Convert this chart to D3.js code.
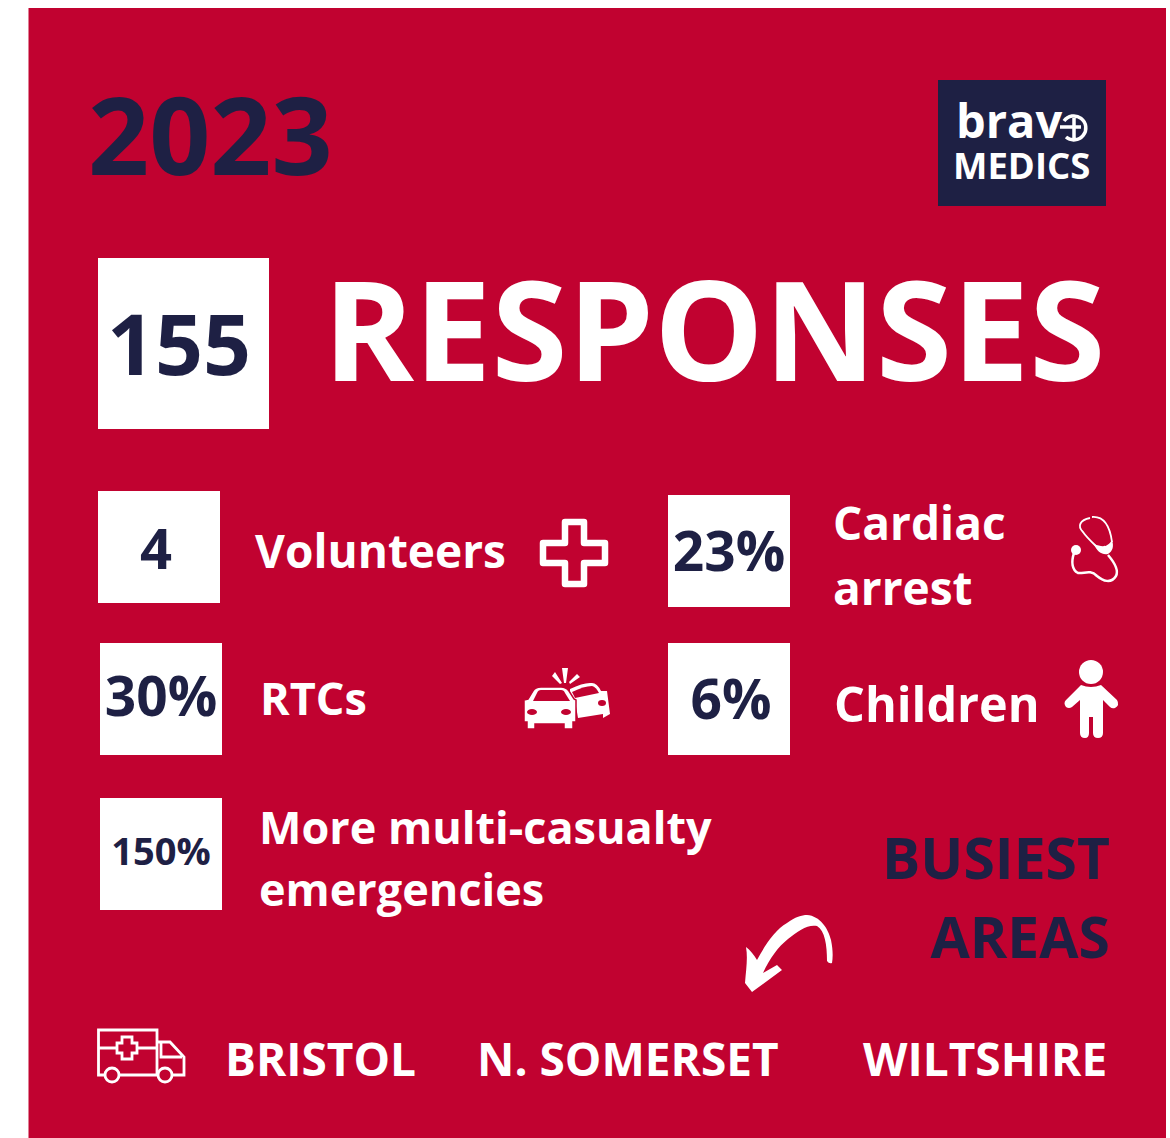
<!DOCTYPE html>
<html>
<head>
<meta charset="utf-8">
<script src="https://cdn.jsdelivr.net/npm/d3@7"></script>
<style>
  html, body { margin: 0; padding: 0; background: #fff; }
  text { font-family: "Open Sans", sans-serif; font-weight: 700; }
</style>
</head>
<body>
<div id="chart"></div>
<script>
const WIDTH = 1170;
const HEIGHT = 1138;
const RED = "#c10230";
const NAVY = "#1e2044";

// content
const year = "2023";
const totalValue = "155";
const totalLabel = "RESPONSES";
const statValues = ["4", "23%", "30%", "6%", "150%"];
const statLabels = [["Volunteers"], ["Cardiac", "arrest"], ["RTCs"], ["Children"], ["More multi-casualty", "emergencies"]];
const areasTitle = ["BUSIEST", "AREAS"];
const areas = ["BRISTOL", "N. SOMERSET", "WILTSHIRE"];

// layout, same order as statValues
const statBoxes = [
  { x: 98, y: 491, fs: 56, textX: 156, textY: 569, labelX: 255, labelY: 568, lh: 0, labelFs: 46 },
  { x: 668, y: 495, fs: 55, textX: 729, textY: 571, labelX: 833, labelY: 540, lh: 65, labelFs: 46 },
  { x: 100, y: 643, fs: 55, textX: 161, textY: 716, labelX: 260, labelY: 715, lh: 0, labelFs: 45 },
  { x: 668, y: 643, fs: 55, textX: 731, textY: 719, labelX: 834, labelY: 722, lh: 0, labelFs: 48.5 },
  { x: 100, y: 798, fs: 38, textX: 161, textY: 865, labelX: 259, labelY: 844, lh: 62, labelFs: 45 },
];
const areaX = [225, 477, 863];

const svg = d3.select("#chart").append("svg")
  .attr("width", WIDTH)
  .attr("height", HEIGHT)
  .style("display", "block");

svg.append("rect").attr("x", 28.5).attr("y", 8).attr("width", 1137.5).attr("height", 1130).attr("fill", RED);

svg.append("text").attr("x", 88).attr("y", 175).attr("font-size", 107).attr("fill", NAVY).text(year);

// logo
const logo = svg.append("g");
logo.append("rect").attr("x", 938).attr("y", 80).attr("width", 168).attr("height", 126).attr("fill", NAVY);
logo.append("text").attr("x", 956).attr("y", 138).attr("font-size", 47).attr("font-weight", 600).attr("fill", "#fff").text("brav");
logo.append("path").attr("fill", "none").attr("stroke", "#fff").attr("stroke-width", 3.5)
  .attr("d", "M1064 121A12 12 0 1 1 1066 137M1060 127H1081M1074 118V139");
logo.append("text").attr("x", 953).attr("y", 179).attr("font-size", 36.5).attr("font-weight", 600).attr("fill", "#fff").text("MEDICS");

// headline
svg.append("rect").attr("x", 98).attr("y", 258).attr("width", 171).attr("height", 171).attr("fill", "#fff");
svg.append("text").attr("x", 179).attr("y", 375).attr("text-anchor", "middle").attr("font-size", 84).attr("fill", NAVY).text(totalValue);
svg.append("text").attr("x", 323).attr("y", 381).attr("font-size", 138).attr("fill", "#fff").text(totalLabel);

// stat boxes
const stats = svg.append("g").selectAll("g")
  .data(statValues.map((value, i) => ({ value, lines: statLabels[i], ...statBoxes[i] })))
  .join("g");

stats.append("rect")
  .attr("x", (d) => d.x).attr("y", (d) => d.y)
  .attr("width", 122).attr("height", 112)
  .attr("fill", "#fff");

stats.append("text")
  .attr("x", (d) => d.textX)
  .attr("y", (d) => d.textY)
  .attr("text-anchor", "middle")
  .attr("font-size", (d) => d.fs)
  .attr("fill", NAVY)
  .text((d) => d.value);

stats.each(function (d) {
  d3.select(this).selectAll("text.label")
    .data(d.lines)
    .join("text")
    .attr("class", "label")
    .attr("x", d.labelX)
    .attr("y", (_, i) => d.labelY + i * d.lh)
    .attr("font-size", d.labelFs)
    .attr("font-weight", 600)
    .attr("fill", "#fff")
    .text((t) => t);
});

// cross icon
svg.append("path")
  .attr("d", "M565 522H584V543H605V563H584V584H565V563H543V543H565Z")
  .attr("fill", "none").attr("stroke", "#fff").attr("stroke-width", 6.5).attr("stroke-linejoin", "round");

// stethoscope icon
const steth = svg.append("g").attr("fill", "none").attr("stroke", "#fff");
steth.append("path").attr("stroke-width", 1.8)
  .attr("d", "M1090 518C1080 520 1077 526 1083 532C1087 538 1094 544 1100 550");
steth.append("path").attr("stroke-width", 1.8)
  .attr("d", "M1092 517C1104 516 1110 527 1112 542");
steth.append("path").attr("fill", "#fff").attr("stroke", "none")
  .attr("d", "M1094 544C1102 547 1107 548 1112 540C1114 546 1113 551 1108 554C1102 555 1097 552 1094 544Z");
steth.append("path").attr("stroke-width", 2.5)
  .attr("d", "M1108 555C1114 562 1119 570 1116 576C1111 584 1103 581 1097 576C1090 569 1084 574 1078 573C1072 570 1071 562 1074 553");
steth.append("circle").attr("cx", 1076).attr("cy", 550).attr("r", 5).attr("fill", "#fff").attr("stroke", "none");

// crash icon, right car first so the left one cuts over it
const crash = svg.append("g").attr("fill", "#fff");
crash.append("path").attr("d", "M570 689Q584 682 592 683Q597 683 601 691L607 691L610 714L603 718V714L578 718L575 700L570 696Z");
crash.append("path").attr("fill", RED).attr("d", "M572 692Q584 686 592 686Q596 687 599 693L575 698Z");
crash.append("ellipse").attr("cx", 602).attr("cy", 703).attr("rx", 4).attr("ry", 3).attr("fill", RED);
crash.append("path").attr("stroke", RED).attr("stroke-width", 1.5)
  .attr("d", "M528 699L533 691Q535 687 541 687H561Q566 687 569 691L574 699L576 700V722H573V729H564V724H535V729H527V722H524V700Z");
crash.append("path").attr("fill", RED).attr("d", "M533 701L537 693Q538 690 541 690H561Q564 690 565 693L570 701Z");
crash.append("ellipse").attr("cx", 532).attr("cy", 712).attr("rx", 5).attr("ry", 3).attr("fill", RED);
crash.append("ellipse").attr("cx", 566).attr("cy", 712).attr("rx", 5).attr("ry", 3).attr("fill", RED);
crash.append("path").attr("d", "M562 668H568L566 683H564ZM552 676L555 672L562 683L560 684ZM577 674L580 677L570 684L569 682Z");

// child icon
const child = svg.append("g").attr("fill", "#fff");
child.append("circle").attr("cx", 1091).attr("cy", 672).attr("r", 12);
child.append("path").attr("d", "M1081 685Q1091 689 1101 685L1117 700Q1120 705 1115 708Q1112 709 1110 707L1103 700V733Q1103 738 1098 738Q1093 738 1093 733V717H1089V733Q1089 738 1085 738Q1080 738 1080 733V700L1072 707Q1069 709 1066 707Q1063 703 1066 700Z");

// busiest areas
svg.append("g").selectAll("text")
  .data(areasTitle)
  .join("text")
  .attr("x", 1110)
  .attr("y", (_, i) => 879 + i * 79)
  .attr("text-anchor", "end")
  .attr("font-size", 57)
  .attr("fill", NAVY)
  .text((t) => t);

// arrow
svg.append("path").attr("fill", "#fff")
  .attr("d", "M827 961C827 945 825 931 817 926C808 924 798 931 788 939C778 947 770 958 763 973L777 965L782 970L752 992L745 983C746 970 748 958 746 947C750 950 754 955 757 960C765 945 775 930 787 923C795 917 802 915 807 915C820 916 828 928 831 940C833 950 833 957 832 963Q829 964 827 961Z");

// ambulance
const amb = svg.append("g").attr("fill", "none").attr("stroke", "#fff").attr("stroke-width", 2.8);
amb.append("path").attr("d", "M105 1075H98.5V1030H157V1075H120M98.5 1048H117M137 1048H157");
amb.append("path").attr("d", "M117 1043H122V1037H132V1043H137V1053H132V1059H122V1053H117Z");
amb.append("path").attr("d", "M157 1042H170L184 1057V1075H173M161 1043V1057H182");
amb.append("circle").attr("cx", 112).attr("cy", 1075).attr("r", 7);
amb.append("circle").attr("cx", 165).attr("cy", 1075).attr("r", 7);

// area names
svg.append("g").selectAll("text")
  .data(areas)
  .join("text")
  .attr("x", (_, i) => areaX[i])
  .attr("y", 1076)
  .attr("font-size", 46)
  .attr("font-weight", 700)
  .attr("fill", "#fff")
  .text((t) => t);
</script>
</body>
</html>
